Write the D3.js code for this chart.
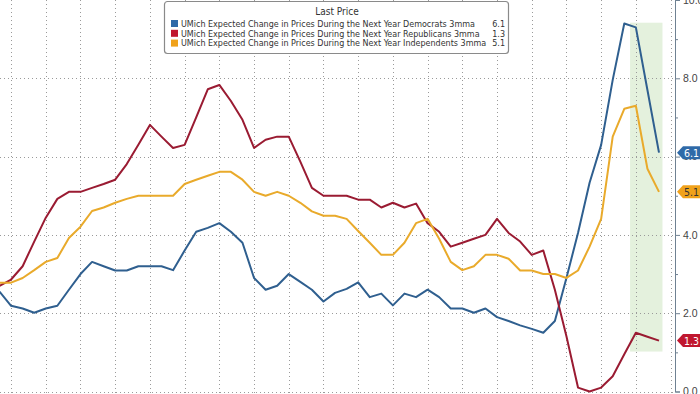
<!DOCTYPE html>
<html>
<head>
<meta charset="utf-8">
<script src="https://cdn.jsdelivr.net/npm/d3@7"></script>
<style>
  html, body { margin: 0; padding: 0; background: #fff; }
  svg { display: block; font-family: "DejaVu Sans Condensed", "Liberation Sans Narrow", "Liberation Sans", sans-serif; }
</style>
</head>
<body>
<svg id="chart" width="700" height="394"></svg>
<script>
// monthly 3mma readings, oldest first
var democrats = [2.55, 2.19, 2.12, 2.01, 2.12, 2.19, 2.6, 3.0, 3.31, 3.2, 3.09, 3.09, 3.2, 3.2, 3.2, 3.1,
  3.6, 4.08, 4.18, 4.3, 4.08, 3.8, 2.9, 2.6, 2.7, 3.0, 2.8, 2.6, 2.3, 2.52, 2.62, 2.79, 2.41, 2.5, 2.2, 2.5,
  2.41, 2.6, 2.41, 2.12, 2.12, 2.01, 2.12, 1.9, 1.8, 1.69, 1.6, 1.5, 1.8, 2.9, 4.05, 5.33, 6.3, 7.96, 9.4,
  9.3, 7.7, 6.1];
var republicans = [2.7, 2.86, 3.2, 3.83, 4.44, 4.92, 5.1, 5.1, 5.2, 5.3, 5.41, 5.81, 6.3, 6.81, 6.51, 6.22,
  6.3, 7.0, 7.72, 7.83, 7.42, 6.94, 6.22, 6.43, 6.51, 6.51, 5.87, 5.2, 5.0, 5.0, 5.0, 4.9, 4.9, 4.7, 4.82, 4.7,
  4.8, 4.3, 4.08, 3.7, 3.8, 3.9, 4.0, 4.41, 4.05, 3.83, 3.49, 3.6, 2.6, 1.41, 0.1, 0.0, 0.1, 0.39, 0.95,
  1.5, 1.4, 1.3];
var independents = [2.78, 2.78, 2.9, 3.1, 3.31, 3.41, 3.92, 4.21, 4.61, 4.7, 4.82, 4.92, 5.0, 5.0, 5.0, 5.0,
  5.3, 5.41, 5.51, 5.61, 5.61, 5.41, 5.1, 5.0, 5.1, 5.0, 4.82, 4.6, 4.49, 4.49, 4.41, 4.1, 3.8, 3.49, 3.49, 3.8,
  4.3, 4.41, 3.9, 3.31, 3.1, 3.2, 3.49, 3.49, 3.39, 3.09, 3.09, 3.0, 3.0, 2.9, 3.09, 3.7, 4.41, 6.51, 7.22,
  7.3, 5.69, 5.1];

var seriesNames = [
  "UMich Expected Change in Prices During the Next Year Democrats 3mma",
  "UMich Expected Change in Prices During the Next Year Republicans 3mma",
  "UMich Expected Change in Prices During the Next Year Independents 3mma"
];
var lastPrices = ["6.1", "1.3", "5.1"];
var yTicks = [0, 2, 4, 6, 8, 10];
var highlight = [54.5, 57.3]; // shaded months (index range)

var lineColors = ["#2f5f8f", "#9a1b32", "#e9aa2b"];
var badgeColors = ["#2f6aa8", "#c0172f", "#f0a21b"];
var badgeText = ["#fff", "#fff", "#333"];

var svg = d3.select("#chart");
var W = 700, H = 394, axisX = 675;

var x = d3.scaleLinear().domain([0, democrats.length - 1]).range([-0.5, 659]);
var y = d3.scaleLinear().domain([0, 10]).range([391.5, 0]);

// shaded box
svg.append("rect")
  .attr("x", x(highlight[0])).attr("width", x(highlight[1]) - x(highlight[0]))
  .attr("y", y(9.42)).attr("height", y(1.02) - y(9.42))
  .attr("fill", "#e4f1dd");

// grid
var vGrid = d3.range(1, 59, 3);
svg.append("g").selectAll("line").data(vGrid).join("line")
  .attr("x1", d => Math.round(x(d)) + 0.5).attr("x2", d => Math.round(x(d)) + 0.5).attr("y1", 0).attr("y2", H)
  .attr("stroke", "#9a9a9a").attr("stroke-width", 1).attr("stroke-dasharray", "1,3");
svg.append("g").selectAll("line").data([0, 2, 4, 6, 8]).join("line")
  .attr("x1", 0).attr("x2", axisX).attr("y1", d => Math.round(y(d)) + 0.5).attr("y2", d => Math.round(y(d)) + 0.5)
  .attr("stroke", "#9a9a9a").attr("stroke-width", 1).attr("stroke-dasharray", "1,3");

// lines
var line = d3.line().x((d, i) => x(i)).y(d => y(d));
[democrats, republicans, independents].forEach(function(s, k) {
  svg.append("path").datum(s)
    .attr("d", line)
    .attr("fill", "none")
    .attr("stroke", lineColors[k])
    .attr("stroke-width", 2)
    .attr("stroke-linejoin", "round");
});

// right axis
var axis = d3.axisRight(y).tickValues(yTicks).tickFormat(d3.format(".1f")).tickSize(5).tickPadding(3);
var gA = svg.append("g").attr("transform", "translate(" + axisX + ",0)").call(axis);
gA.select(".domain").attr("stroke", "#6f8192");
gA.selectAll(".tick line").attr("stroke", "#6f8192");
gA.selectAll(".tick text").attr("fill", "#444").style("font-size", "10.5px");
svg.append("g").attr("transform", "translate(" + axisX + ",0)")
  .call(d3.axisRight(y).tickValues([1, 3, 5, 7, 9]).tickSize(3).tickFormat(""))
  .call(g => g.select(".domain").remove())
  .selectAll("line").attr("stroke", "#6f8192");

// last price badges
var lasts = [democrats, republicans, independents].map(s => s[s.length - 1]);
lasts.forEach(function(v, k) {
  var cy = y(v);
  var g = svg.append("g").attr("transform", "translate(" + (axisX + 2) + "," + cy + ")");
  g.append("path")
    .attr("d", "M0,0 L6,-6.5 L23,-6.5 L23,6.5 L6,6.5 Z")
    .attr("fill", badgeColors[k]);
  g.append("text").attr("x", 7).attr("y", 4)
    .attr("fill", badgeText[k]).style("font-size", "10.5px")
    .text(lastPrices[k]);
});

// legend
var lg = svg.append("g");
lg.append("rect").attr("x", 164.5).attr("y", 1.5).attr("width", 344).attr("height", 52).attr("rx", 3)
  .attr("fill", "#fff").attr("stroke", "#8a8a8a").attr("stroke-width", 1.2);
lg.append("text").attr("x", 337).attr("y", 15).attr("text-anchor", "middle")
  .attr("fill", "#333").style("font-size", "10px").text("Last Price");

// pick a font size so the longest name ends just before the value column
var probe = lg.append("text").style("font-size", "10px").text(seriesNames[2]);
var natural = probe.node().getComputedTextLength();
probe.remove();
var fs = Math.min(10, 10 * (487 - 181) / natural);

seriesNames.forEach(function(n, k) {
  var ry = 23.5 + k * 9.8;
  lg.append("rect").attr("x", 171).attr("y", ry - 3.5).attr("width", 7).attr("height", 7).attr("fill", badgeColors[k]);
  lg.append("text").attr("x", 181).attr("y", ry + 3.3)
    .attr("fill", "#333").style("font-size", fs + "px").text(n);
  lg.append("text").attr("x", 505).attr("y", ry + 3.3).attr("text-anchor", "end")
    .attr("fill", "#333").style("font-size", fs + "px").text(lastPrices[k]);
});
</script>
</body>
</html>
